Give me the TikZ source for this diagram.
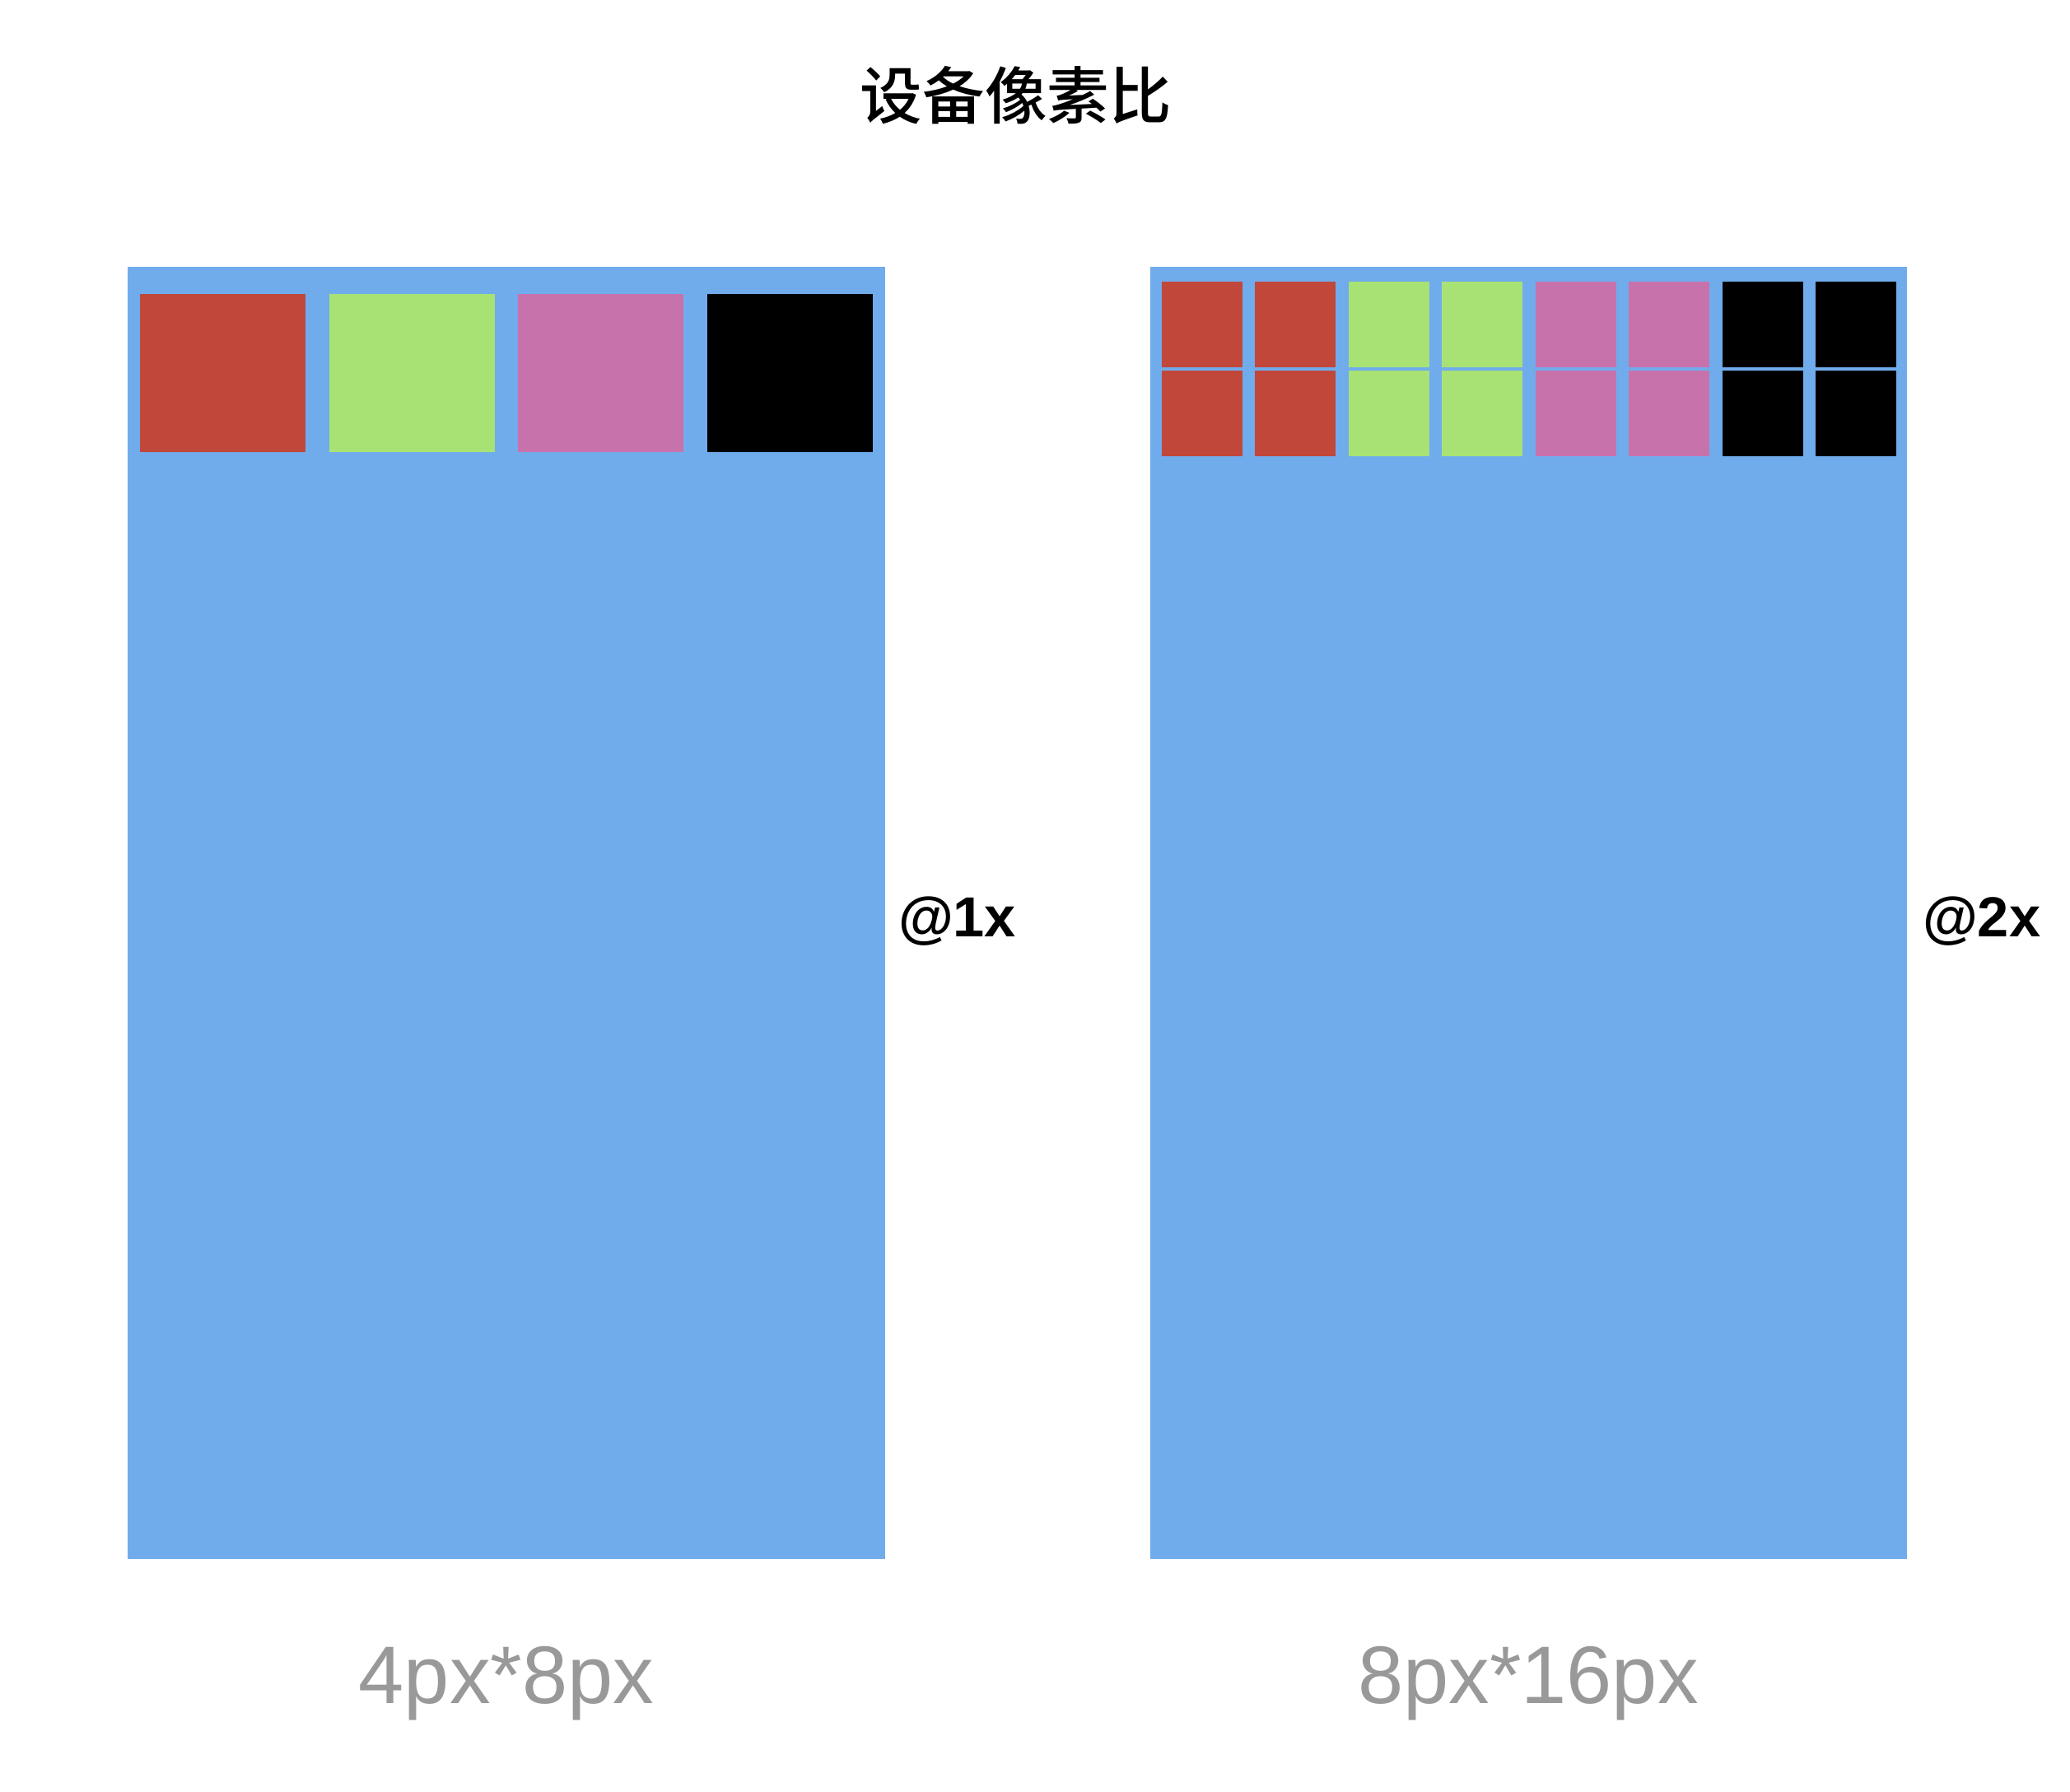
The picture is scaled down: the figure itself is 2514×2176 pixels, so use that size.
\documentclass[tikz,border=0pt]{standalone}
\usepackage{fontspec}
\setmainfont{Liberation Sans}
\newfontfamily\cjkfont{Noto Sans CJK SC Medium}
\usepackage{xcolor}
\definecolor{ScreenBlue}{HTML}{70ACEC}
\definecolor{PixRed}{HTML}{C0473A}
\definecolor{PixGreen}{HTML}{A8E274}
\definecolor{PixPink}{HTML}{C872AC}
\definecolor{LabelGray}{HTML}{999999}
\usepackage{tikz}
\usetikzlibrary{positioning}

\begin{document}
\begin{tikzpicture}[x=0.01cm, y=-0.01cm, every node/.style={inner sep=0pt, outer sep=0pt},
  screen/.style={fill=ScreenBlue},
  ratio/.style={font=\fontsize{19.5pt}{22pt}\selectfont\bfseries, anchor=base west},
  size/.style={font=\fontsize{28.2pt}{32pt}\selectfont, text=LabelGray, anchor=base}]
  \fill[white] (0,0) rectangle (2514,2176);
  \useasboundingbox (0,0) rectangle (2514,2176);
  % title
  \node[font=\cjkfont\fontsize{21.5pt}{24pt}\selectfont] (title) at (1234,116) {设备像素比};
  % @1x screen
  \fill[screen] (155,324) rectangle (1075,1893);
  \foreach \c [count=\i from 0] in {PixRed,PixGreen,PixPink,black}
    \fill[\c] (170+229.6*\i,357) rectangle ++(201,192);
  \node[ratio] (onex) at (1091,1137) {@1x};
  \node[size] (onesize) at (615,2068) {4px*8px};
  % @2x screen
  \fill[screen] (1397,324) rectangle (2316,1893);
  \foreach \c [count=\i from 0] in {PixRed,PixRed,PixGreen,PixGreen,PixPink,PixPink,black,black}
    \foreach \r in {0,1}
      \fill[\c] (1410.5+113.5*\i,342+108*\r) rectangle ++(98,104);
  \node[ratio] (twox) at (2335,1137) {@2x};
  \node[size] (twosize) at (1856,2068) {8px*16px};
\end{tikzpicture}
\end{document}
